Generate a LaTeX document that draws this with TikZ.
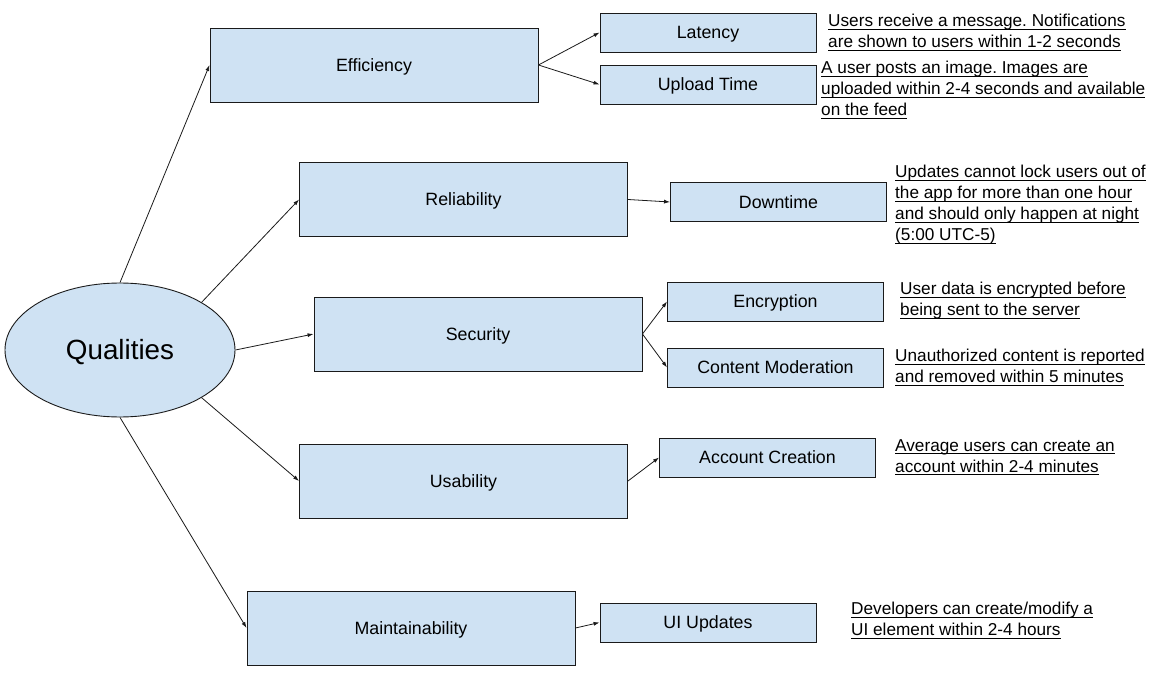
\documentclass[tikz,border=0pt]{standalone}
\usepackage{fontspec}
\setmainfont{Liberation Sans}
\usetikzlibrary{shapes.geometric,arrows.meta}
\definecolor{boxblue}{HTML}{CFE2F3}
\definecolor{edge}{HTML}{1A1A1A}
\frenchspacing
\newcommand\myul[1]{\setbox0=\hbox{#1}\rlap{\rule[-3pt]{\wd0}{0.9pt}}\box0}
\begin{document}
\begin{tikzpicture}[x=1pt,y=-1pt,
  boxbase/.style={draw=edge,line width=0.9pt,fill=boxblue,inner sep=0pt,font=\fontsize{17.8}{20}\selectfont,text height=12.7pt,text depth=0pt},
  bigbox/.style={boxbase,minimum width=328pt,minimum height=74pt},
  smallbox/.style={boxbase,minimum width=216pt,minimum height=39pt},
  note/.style={anchor=north west,inner sep=0pt,align=left,font=\fontsize{17.2}{21}\selectfont\frenchspacing},
  arr/.style={draw=edge,line width=0.8pt,-{Latex[length=6pt,width=4pt]}}]
\useasboundingbox (0,0) rectangle (1161,700);
\node[draw=edge,line width=0.9pt,fill=boxblue,ellipse,minimum width=230pt,minimum height=134pt,inner sep=0pt,font=\fontsize{27.8}{30}\selectfont,text height=19.9pt,text depth=0pt] (Q) at (120,350) {Qualities};
\node[bigbox] (eff) at (374,65) {Efficiency};
\node[bigbox] (rel) at (463.5,199.5) {Reliability};
\node[bigbox] (sec) at (478,334) {Security};
\node[bigbox] (usa) at (463.5,481) {Usability};
\node[bigbox] (mai) at (411,628) {Maintainability};
\node[smallbox] (lat) at (708,32.5) {Latency};
\node[smallbox] (upl) at (708,84.5) {Upload Time};
\node[smallbox] (dow) at (778.5,202) {Downtime};
\node[smallbox] (enc) at (775.5,301.5) {Encryption};
\node[smallbox] (mod) at (775.5,367.5) {Content Moderation};
\node[smallbox] (acc) at (767.5,457.5) {Account Creation};
\node[smallbox] (uiu) at (708,622.5) {UI Updates};
\node[note] (nlat) at (828,14) {\myul{Users receive a message. Notifications}\\\myul{are shown to users within 1-2 seconds}};
\node[note] (nupl) at (821,61) {\myul{A user posts an image. Images are}\\\myul{uploaded within 2-4 seconds and available}\\\myul{on the feed}};
\node[note] (ndow) at (895,165) {\myul{Updates cannot lock users out of}\\\myul{the app for more than one hour}\\\myul{and should only happen at night}\\\myul{(5:00 UTC-5)}};
\node[note] (nenc) at (900,282) {\myul{User data is encrypted before}\\\myul{being sent to the server}};
\node[note] (nmod) at (895,349) {\myul{Unauthorized content is reported}\\\myul{and removed within 5 minutes}};
\node[note] (nacc) at (895,439) {\myul{Average users can create an}\\\myul{account within 2-4 minutes}};
\node[note] (nuiu) at (851,602) {\myul{Developers can create/modify a}\\\myul{UI element within 2-4 hours}};
\draw[arr] (Q.north) -- (eff.west);
\draw[arr] (Q.north east) -- (rel.west);
\draw[arr] (Q.east) -- (sec.west);
\draw[arr] (Q.south east) -- (usa.west);
\draw[arr] (Q.south) -- (mai.west);
\draw[arr] (eff.east) -- (lat.west);
\draw[arr] (eff.east) -- (upl.west);
\draw[arr] (rel.east) -- (dow.west);
\draw[arr] (sec.east) -- (enc.west);
\draw[arr] (sec.east) -- (mod.west);
\draw[arr] (usa.east) -- (acc.west);
\draw[arr] (mai.east) -- (uiu.west);
\end{tikzpicture}
\end{document}
